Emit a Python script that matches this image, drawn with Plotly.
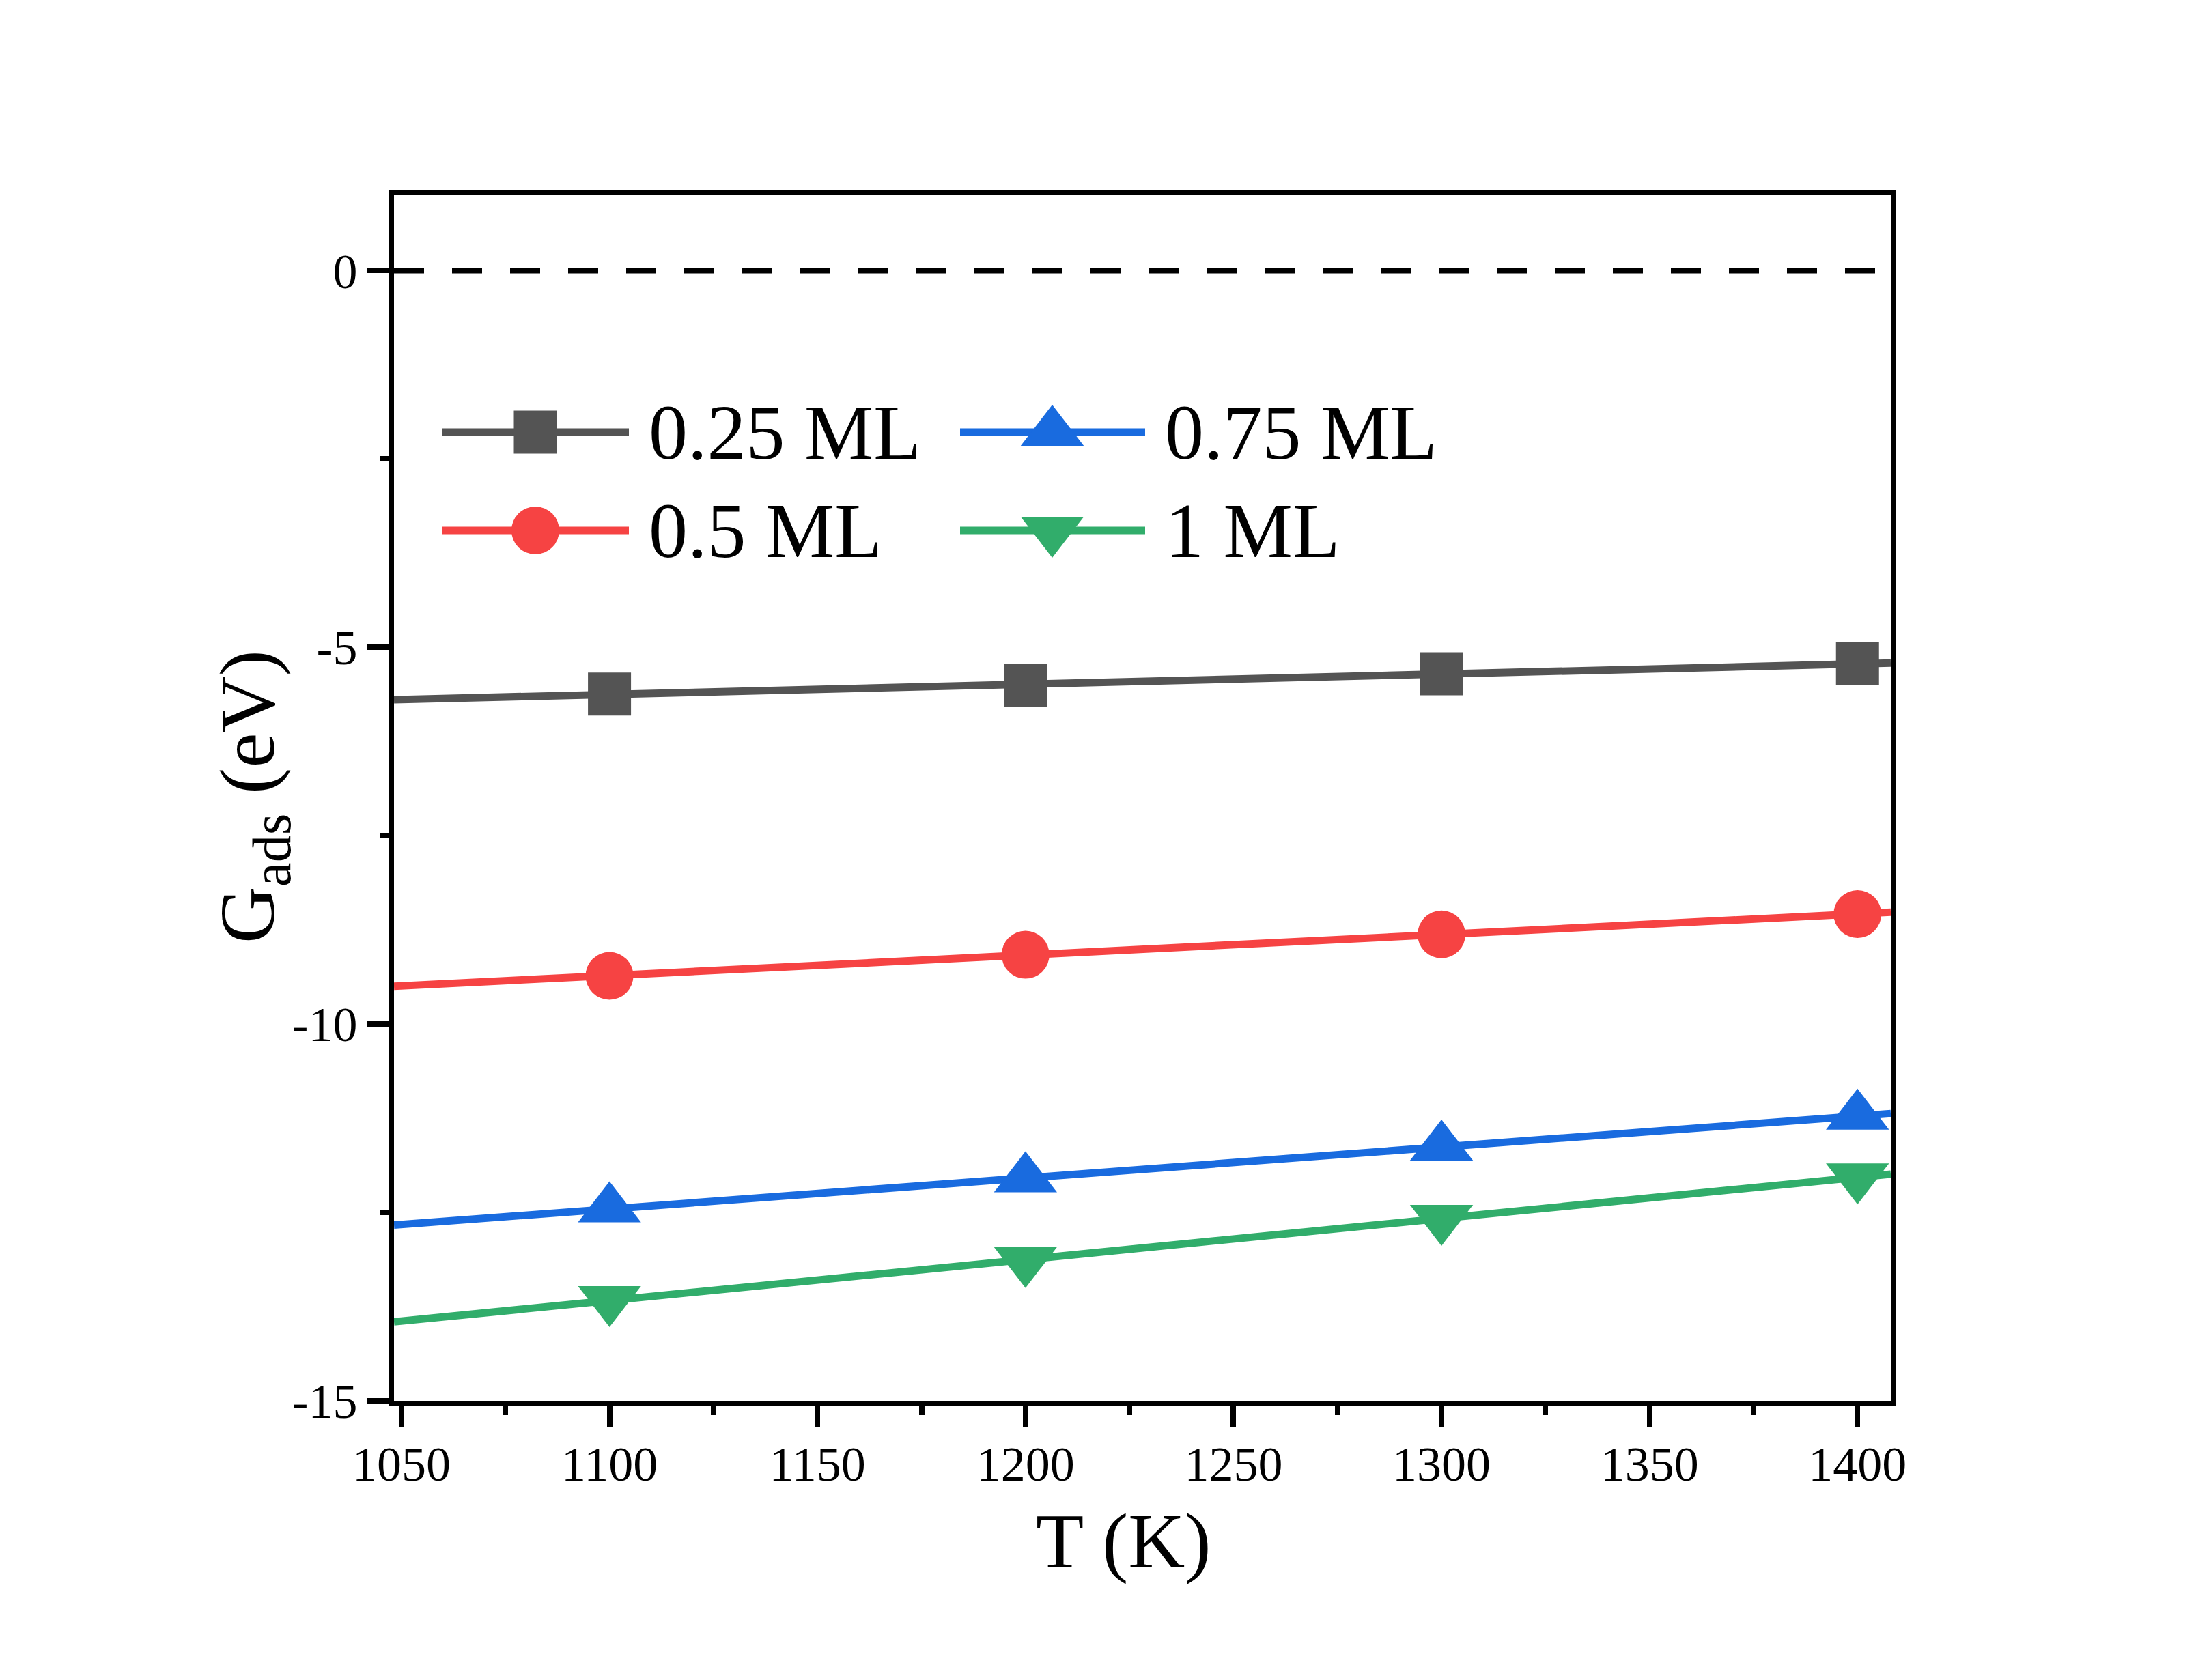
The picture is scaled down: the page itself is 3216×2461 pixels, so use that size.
import numpy as np
import plotly.graph_objects as go

# ---------------- data ----------------
temps = [1100, 1200, 1300, 1400]
g_025 = [-5.62, -5.50, -5.35, -5.22]
g_050 = [-9.36, -9.08, -8.81, -8.54]
g_075 = [-12.45, -12.05, -11.63, -11.22]
g_100 = [-13.66, -13.14, -12.58, -12.03]
series_labels = ["0.25 ML", "0.5 ML", "0.75 ML", "1 ML"]
x_tick_vals = [1050, 1100, 1150, 1200, 1250, 1300, 1350, 1400]
y_tick_vals = [0, -5, -10, -15]
y_tick_text = ["0", "-5", "-10", "-15"]
x_title = "T (K)"
y_title = "G<sub>ads</sub> (eV)"

# ---------------- layout geometry ----------------
W, H = 3216, 2461
L, R, TOP, BOT = 577, 2769, 286, 2052
XR = [1048.2, 1408.0]
YR = [-15, 1]
FONT = "Liberation Serif"

colors = ["#545454", "#F64343", "#196BDF", "#31AD6B"]
symbols = ["square", "circle", "triangle-up", "triangle-down"]
msizes = [63, 70, 80, 80]
series = [g_025, g_050, g_075, g_100]


def paper(xp, yp):
    return (xp - L) / (R - L), (BOT - yp) / (BOT - TOP)


fig = go.Figure()

for vals, col, sym, ms, lab in zip(series, colors, symbols, msizes, series_labels):
    coef = np.polyfit(temps, vals, 1)
    fx = np.array(XR)
    fig.add_trace(go.Scatter(x=fx, y=np.polyval(coef, fx), mode="lines",
                             line=dict(color=col, width=11),
                             showlegend=False, hoverinfo="skip"))
    fig.add_trace(go.Scatter(x=temps, y=vals, mode="markers", name=lab,
                             marker=dict(symbol=sym, size=ms, color=col,
                                         line=dict(width=0)),
                             showlegend=False))

# ---------------- custom legend (overlay pixel axes) ----------------
leg_cols = [(647, 784, 921, 948), (1406, 1541, 1677, 1704)]
leg_rows = [633, 777]
leg_slots = [(0, 0), (0, 1), (1, 0), (1, 1)]
for (ci, ri), col, sym, ms, lab in zip(leg_slots, colors, symbols, msizes, series_labels):
    x0, xm, x1, xt = leg_cols[ci]
    yy = leg_rows[ri]
    fig.add_trace(go.Scatter(x=[x0, x1], y=[yy, yy], mode="lines",
                             line=dict(color=col, width=11),
                             xaxis="x2", yaxis="y2", showlegend=False, hoverinfo="skip"))
    fig.add_trace(go.Scatter(x=[xm], y=[yy], mode="markers",
                             marker=dict(symbol=sym, size=ms, color=col, line=dict(width=0)),
                             xaxis="x2", yaxis="y2", showlegend=False, hoverinfo="skip"))
    fig.add_annotation(x=xt, y=yy, xref="x2", yref="y2", text=lab, showarrow=False,
                       xanchor="left", yanchor="middle",
                       font=dict(family=FONT, size=114, color="black"))

# zero reference line
fig.add_hline(y=0, line=dict(color="black", width=8, dash="44px,41px"))

axis_common = dict(showline=True, linewidth=8, linecolor="black", mirror=True,
                   showgrid=False, zeroline=False, ticks="outside", ticklen=31,
                   tickwidth=8, tickcolor="black",
                   tickfont=dict(family=FONT, size=72, color="black"))

fig.update_layout(
    width=W, height=H,
    margin=dict(l=L, r=W - R, t=TOP, b=H - BOT, pad=0),
    paper_bgcolor="white", plot_bgcolor="white",
    font=dict(family=FONT, color="black"),
    showlegend=False,
    xaxis=dict(range=XR, tickmode="array", tickvals=x_tick_vals, ticklabelstandoff=-8,
               minor=dict(ticks="outside", ticklen=13, tickwidth=8, tickcolor="black",
                          tick0=1050, dtick=25),
               **axis_common),
    yaxis=dict(range=YR, tickmode="array", tickvals=y_tick_vals, ticktext=y_tick_text,
               minor=dict(ticks="outside", ticklen=13, tickwidth=8, tickcolor="black",
                          tick0=0, dtick=2.5),
               **axis_common),
    xaxis2=dict(overlaying="x", range=[L, R], visible=False, fixedrange=True),
    yaxis2=dict(overlaying="y", range=[BOT, TOP], visible=False, fixedrange=True),
)

xt, yt = paper(1645, 2257)
fig.add_annotation(x=xt, y=yt, xref="paper", yref="paper", text=x_title, showarrow=False,
                   xanchor="center", yanchor="middle",
                   font=dict(family=FONT, size=115, color="black"))
xt, yt = paper(370, 1167)
fig.add_annotation(x=xt, y=yt, xref="paper", yref="paper", text=y_title, showarrow=False,
                   textangle=-90, xanchor="center", yanchor="middle",
                   font=dict(family=FONT, size=115, color="black"))

fig.write_html("out.html")
